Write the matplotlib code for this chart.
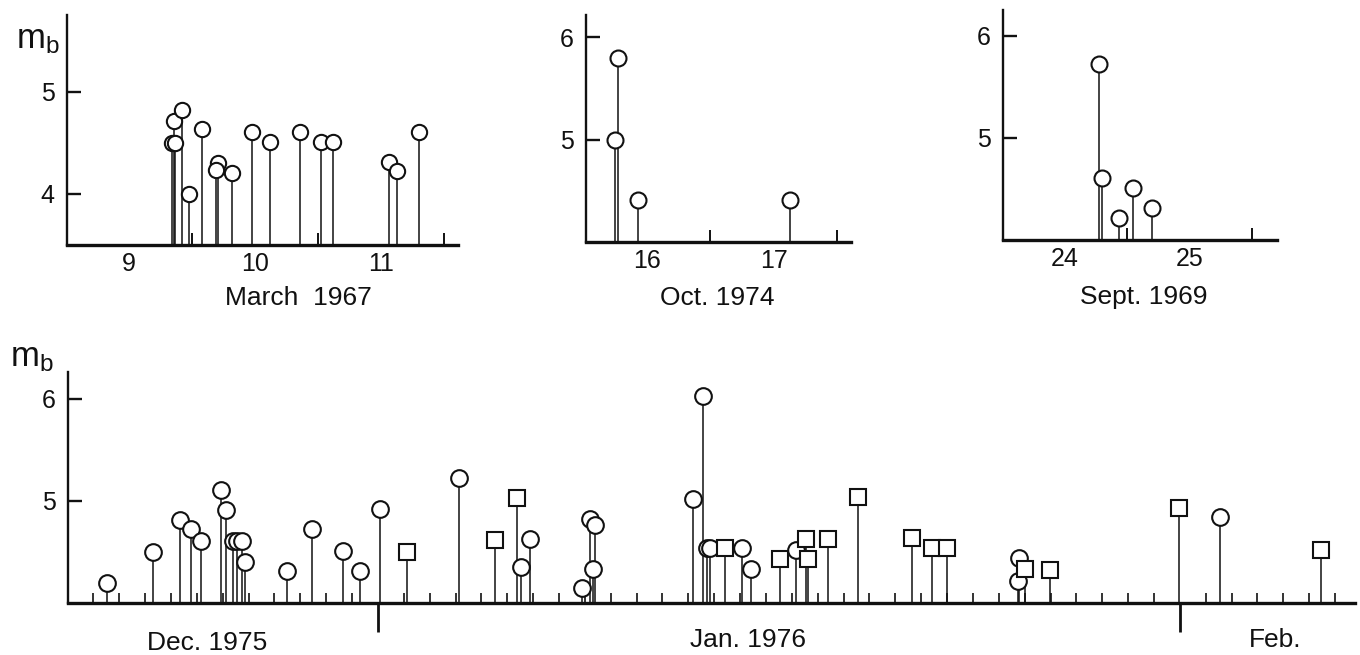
import matplotlib
matplotlib.use("Agg")
from matplotlib import pyplot as plt
import numpy as np

plt.rcParams['font.family'] = ['Liberation Sans', 'DejaVu Sans']

# --- data (day of month as decimal, magnitude mb) ---
mar67_day = [9.84, 9.87, 9.86, 9.92, 9.98, 10.08, 10.21, 10.19, 10.32, 10.48,
             10.62, 10.86, 11.02, 11.12, 11.56, 11.63, 11.80]
mar67_mb = [4.50, 4.50, 4.71, 4.82, 4.00, 4.63, 4.30, 4.23, 4.20, 4.61,
            4.51, 4.61, 4.51, 4.51, 4.31, 4.22, 4.61]

oct74_day = [16.27, 16.25, 16.43, 17.63]
oct74_mb = [5.80, 5.00, 4.41, 4.41]

sep69_day = [24.78, 24.80, 24.94, 25.05, 25.20]
sep69_mb = [5.72, 4.61, 4.22, 4.51, 4.31]

# bottom panel: days counted from 1 Jan 1976 (negative = December 1975)
circ_day = [-10.46, -8.71, -7.65, -7.24, -6.82, -6.07, -5.88, -5.62, -5.44,
            -5.25, -5.14, -3.51, -2.53, -1.34, -0.70, 0.08, 3.12, 5.55, 5.88,
            7.87, 8.19, 8.39, 8.30, 12.19, 12.58, 12.71, 12.83, 14.06, 14.42,
            16.16, 24.79, 24.75, 32.57]
circ_mb = [4.20, 4.50, 4.81, 4.72, 4.61, 5.11, 4.91, 4.61, 4.61, 4.61, 4.40,
           4.31, 4.72, 4.51, 4.31, 4.92, 5.22, 4.35, 4.63, 4.15, 4.82, 4.76,
           4.33, 5.02, 6.03, 4.54, 4.54, 4.54, 4.33, 4.52, 4.44, 4.22, 4.84]

sq_day = [1.11, 4.52, 5.36, 13.41, 15.54, 16.54, 16.63, 17.38, 18.54, 20.65,
          21.40, 21.98, 25.01, 25.98, 30.97, 36.45]
sq_mb = [4.50, 4.62, 5.03, 4.54, 4.43, 4.63, 4.43, 4.63, 5.04, 4.64, 4.54,
         4.54, 4.33, 4.32, 4.93, 4.52]

W, H = 1360, 655
INK = '#111111'
fig = plt.figure(figsize=(W / 100, H / 100), dpi=100)


def box(left, right, bottom, top):
    return [left / W, 1 - bottom / H, (right - left) / W, (bottom - top) / H]


def style(ax, ylim, xlim, yticks):
    ax.set_ylim(*ylim)
    ax.set_xlim(*xlim)
    for s in ('top', 'right'):
        ax.spines[s].set_visible(False)
    ax.spines['left'].set_linewidth(1.7)
    ax.spines['bottom'].set_linewidth(2.4)
    ax.spines['left'].set_color(INK)
    ax.spines['bottom'].set_color(INK)
    ax.set_yticks(yticks)
    ax.set_yticklabels([str(v) for v in yticks])
    ax.tick_params(axis='y', direction='in', length=10, width=1.7,
                   pad=9, labelsize=18, colors=INK)


def stems(ax, x, y, marker, ms):
    base = ax.get_ylim()[0]
    ax.vlines(x, base, y, color=INK, lw=1.1, zorder=2)
    ax.plot(x, y, ls='none', marker=marker, ms=ms, mfc='white', mec=INK,
            mew=1.5, zorder=3, clip_on=False)


def day_axis(ax, labels, label_pos, bounds):
    ax.set_xticks(label_pos)
    ax.set_xticklabels(labels)
    ax.tick_params(axis='x', which='major', length=0, pad=5, labelsize=18,
                   colors=INK)
    ax.set_xticks(bounds, minor=True)
    ax.tick_params(axis='x', which='minor', direction='in', length=9,
                   width=1.4, colors=INK)


# --- March 1967 ---
ax1 = fig.add_axes(box(67, 458, 245, 15))
style(ax1, (3.5, 5.75), (9.01, 12.11), [4, 5])
day_axis(ax1, ['9', '10', '11'], [9.5, 10.5, 11.5], [10, 11, 12])
stems(ax1, mar67_day, mar67_mb, 'o', 11)

# --- Oct. 1974 ---
ax2 = fig.add_axes(box(586, 851, 242, 15))
style(ax2, (4.0, 6.22), (16.02, 18.11), [5, 6])
day_axis(ax2, ['16', '17'], [16.5, 17.5], [17, 18])
stems(ax2, oct74_day, oct74_mb, 'o', 11.5)

# --- Sept. 1969 ---
ax3 = fig.add_axes(box(1003, 1277, 240, 10))
style(ax3, (4.0, 6.25), (24.01, 26.2), [5, 6])
day_axis(ax3, ['24', '25'], [24.5, 25.5], [25, 26])
stems(ax3, sep69_day, sep69_mb, 'o', 11.5)

# --- Dec. 1975 - Feb. 1976 ---
ax4 = fig.add_axes(box(68, 1355, 603, 372))
style(ax4, (4.0, 6.26), (-11.98, 37.77), [5, 6])
ax4.set_xticks([0, 31])
ax4.set_xticklabels(['', ''])
ax4.tick_params(axis='x', which='major', direction='out', length=21,
                width=2.0, colors=INK)
ax4.set_xticks(np.arange(-11, 38), minor=True)
ax4.tick_params(axis='x', which='minor', direction='in', length=7,
                width=1.2, colors=INK)
stems(ax4, circ_day, circ_mb, 'o', 12)
stems(ax4, sq_day, sq_mb, 's', 12)

# --- free labels ---
txt = dict(ha='center', va='center', color=INK, fontsize=19)
fig.text(298 / W, 1 - 298 / H, 'March  1967', **txt)
fig.text(717 / W, 1 - 298 / H, 'Oct. 1974', **txt)
fig.text(1144 / W, 1 - 297 / H, 'Sept. 1969', **txt)
fig.text(207 / W, 1 - 643 / H, 'Dec. 1975', **txt)
fig.text(748 / W, 1 - 640 / H, 'Jan. 1976', **txt)
fig.text(1275 / W, 1 - 640 / H, 'Feb.', **txt)
fig.text(38 / W, 1 - 40 / H, r'$\mathregular{m_b}$', ha='center', va='center',
         color=INK, fontsize=25)
fig.text(32 / W, 1 - 358 / H, r'$\mathregular{m_b}$', ha='center', va='center',
         color=INK, fontsize=25)

fig.savefig('out.png', dpi=100, facecolor='white')
